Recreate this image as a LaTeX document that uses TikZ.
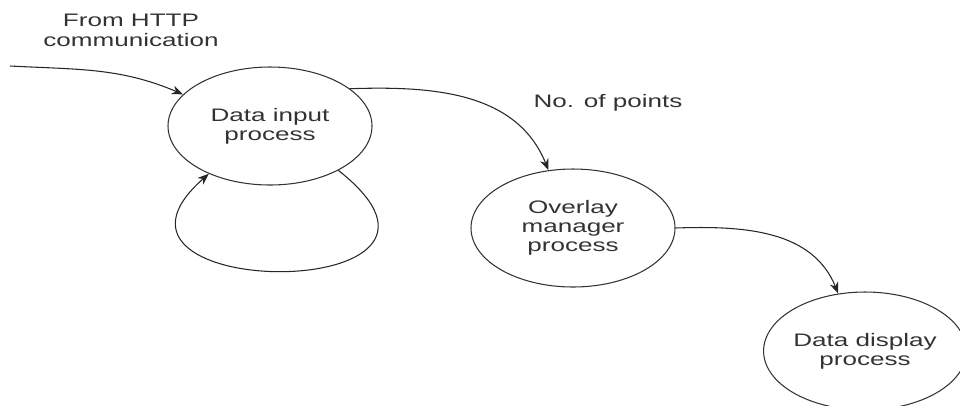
\documentclass[tikz,border=0pt]{standalone}
\usepackage{fontspec}
\setmainfont{Liberation Sans}[FakeStretch=1.44]
\usepackage{tikz}
\usetikzlibrary{arrows.meta,shapes.geometric}

\begin{document}
\begin{tikzpicture}[
  >={Stealth[length=6.5pt,width=5pt]},
  proc/.style={draw=black!80, ellipse, line width=0.6pt, minimum width=4.08cm,
               minimum height=2.36cm, inner sep=0pt, align=center,
               font=\fontsize{10.3}{10.8}\selectfont, text=black!80},
  flow/.style={->, draw=black!85, line width=0.6pt},
  lbl/.style={align=center, font=\fontsize{10.3}{11.5}\selectfont, text=black!80},
]
\useasboundingbox (0,0) rectangle (19.2,-8.1);

% Processes
\node[proc] (din) at (5.4,-2.52) {Data input\\process};
\node[proc] (ovl) at (11.46,-4.56) {Overlay\\manager\\process};
\node[proc, minimum width=3.94cm] (dsp) at (17.3,-7.02) {Data display\\process};

% Source of the incoming flow
\coordinate (src) at (0.2,-1.32);
\node[lbl] (srclbl) at (2.62,-0.6) {From HTTP\\communication};

% Flows
\draw[flow] (src) to[out=-3,in=157] (din.160);
\draw[flow] (din.-33) .. controls +(3.44,-2.7) and +(-2.94,-2.58) .. (din.-142);
\draw[flow] (din.25) to[out=2,in=112] (ovl.113);
\node[lbl] (npts) at (12.16,-2.06) {No. of points};
\draw[flow] (ovl.east) to[out=2,in=112] (dsp.115);
\end{tikzpicture}
\end{document}
